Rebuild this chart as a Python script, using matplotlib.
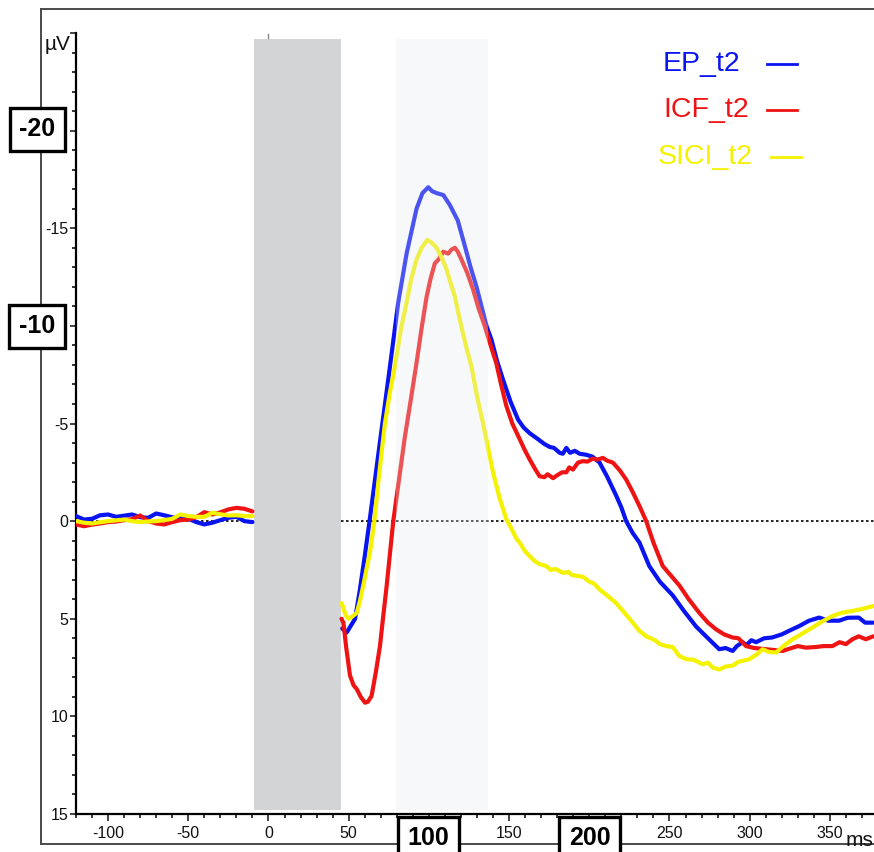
import matplotlib

matplotlib.use("Agg")
import matplotlib.pyplot as plt
from matplotlib.lines import Line2D
from matplotlib.patches import Rectangle

plt.rcParams["font.family"] = ["Liberation Sans", "DejaVu Sans"]

# ---- data (ms, µV; negative is drawn upward) ----
pre_t = [-120, -115, -110, -105, -100, -95, -90, -85, -80, -75, -70, -65, -60,
         -55, -50, -45, -40, -35, -30, -25, -20, -15, -10]
ep_pre = [-0.26, -0.08, -0.12, -0.30, -0.34, -0.22, -0.28, -0.34, -0.20, -0.17, -0.39, -0.30, -0.20,
          -0.15, -0.12, 0.05, 0.17, 0.08, -0.05, -0.17, -0.22, 0.00, 0.05]
icf_pre = [0.17, 0.26, 0.18, 0.12, 0.05, 0.02, -0.05, -0.10, -0.29, 0.00, 0.12, 0.17, 0.05,
           -0.05, -0.08, -0.20, -0.46, -0.34, -0.45, -0.60, -0.68, -0.63, -0.50]
sici_pre = [0.00, 0.08, 0.12, 0.06, 0.00, -0.04, -0.08, 0.00, 0.05, 0.02, 0.00, -0.05, -0.12,
            -0.34, -0.26, -0.22, -0.22, -0.43, -0.35, -0.29, -0.30, -0.26, -0.26]

ep_t = [46, 48.8, 51, 54, 57, 60, 63, 67, 71, 75.7, 80.9, 86.1, 92.3, 96, 99.6, 102, 104.8, 109, 113,
        118, 122.4, 126, 129.7, 135.9, 139, 142.5, 146.2, 151, 155.6, 159, 162.9, 168, 172, 175.3,
        178, 181.5, 183.5, 185.7, 188, 191, 194, 198, 202, 206.4, 211, 216.8, 220, 223, 227, 231.3,
        237.4, 244, 252, 259, 266.6, 274, 281, 285, 289.4, 292, 295.6, 298, 301, 304, 309, 314, 320,
        325, 331, 337, 343.3, 349, 355.7, 361, 368, 372, 377]
ep_v = [5.5, 5.7, 5.4, 5.0, 3.5, 1.8, 0.0, -2.5, -5.0, -7.9, -11.2, -13.7, -16.0, -16.8, -17.1, -16.9,
        -16.8, -16.7, -16.2, -15.4, -14.1, -13.0, -12.0, -10.0, -9.3, -8.2, -7.25, -6.1, -5.2, -4.8,
        -4.5, -4.2, -3.95, -3.8, -3.75, -3.5, -3.45, -3.75, -3.5, -3.6, -3.45, -3.4, -3.3, -3.0, -2.3,
        -1.3, -0.7, 0.0, 0.6, 1.1, 2.3, 3.1, 3.8, 4.6, 5.4, 6.0, 6.56, 6.5, 6.65, 6.4, 6.2, 6.35, 6.1,
        6.2, 6.0, 5.96, 5.8, 5.6, 5.37, 5.1, 4.94, 5.1, 5.1, 4.95, 4.94, 5.2, 5.2]

icf_t = [45.5, 46.7, 48.5, 50.8, 53, 55, 57.5, 60.2, 62, 64.3, 67, 69.5, 71.5, 73.7, 75.8, 77.8, 81.5,
         85, 88.5, 92.3, 95.5, 98.6, 101, 103.7, 106, 109, 112, 114, 116.2, 118, 120.3, 124, 127.6,
         131, 134.8, 138.5, 142, 145, 148.3, 152, 156.6, 160, 162.9, 166, 169, 172, 174, 177.4, 180,
         183, 185.7, 187.5, 189.8, 193, 196, 199, 202, 205, 208.5, 211, 214.7, 219, 223, 227, 231.3,
         235.5, 240, 245.8, 251, 256.2, 262, 268.6, 274, 279, 284, 289.4, 293, 297.7, 303, 310, 315,
         320.5, 326, 330, 335, 341, 346, 351.6, 356, 360, 364, 368, 372.4, 377]
icf_v = [5.0, 5.2, 6.5, 7.9, 8.4, 8.6, 9.0, 9.3, 9.25, 8.95, 7.7, 6.4, 4.9, 3.3, 1.6, 0.0, -2.2, -4.3,
         -6.1, -8.1, -9.9, -11.5, -12.4, -13.2, -13.4, -13.8, -13.7, -13.9, -14.0, -13.8, -13.4,
         -12.7, -11.85, -10.9, -10.0, -9.0, -8.1, -7.0, -5.9, -5.0, -4.2, -3.6, -3.15, -2.7, -2.3,
         -2.25, -2.4, -2.2, -2.35, -2.5, -2.5, -2.75, -2.64, -3.0, -3.07, -3.05, -3.2, -3.15, -3.24,
         -3.1, -3.0, -2.6, -2.13, -1.5, -0.77, 0.0, 1.1, 2.3, 2.8, 3.3, 4.0, 4.7, 5.2, 5.54, 5.8, 5.96,
         6.0, 6.4, 6.5, 6.56, 6.6, 6.65, 6.5, 6.4, 6.48, 6.45, 6.4, 6.4, 6.2, 6.3, 6.05, 5.9, 6.05, 5.9]

sici_t = [45.5, 46.3, 48, 49.8, 52, 55, 57, 59.1, 61, 63.3, 66, 69, 72.6, 75.5, 78.8, 82.5, 86.1, 89,
          92.3, 95.5, 99, 101, 102.5, 104.8, 108, 111, 113.5, 116.2, 118.5, 121.3, 124, 126.6, 130,
          133.8, 137, 140, 144, 148.3, 151.5, 154.6, 156.6, 160, 162.9, 166, 169, 173.2, 176, 179,
          183.6, 187, 189, 192, 196, 200, 203, 206.4, 211, 216.8, 222, 227.1, 231, 235.5, 241, 244,
          248, 252, 256, 260.4, 265, 270.7, 274, 277, 281, 285, 289.4, 293, 296, 299.7, 304, 308, 312,
          316.4, 321, 326.7, 332, 339.1, 345, 351.6, 357, 364, 370, 377]
sici_v = [4.2, 4.35, 4.8, 5.0, 4.9, 4.7, 4.1, 3.3, 2.5, 1.6, 0.0, -2.4, -5.0, -6.5, -7.9, -9.8, -11.2,
          -12.4, -13.4, -14.0, -14.4, -14.3, -14.2, -14.0, -13.5, -12.9, -12.2, -11.5, -10.6, -9.6,
          -8.7, -7.9, -6.4, -5.0, -3.7, -2.5, -1.2, -0.1, 0.4, 0.9, 1.1, 1.55, 1.8, 2.05, 2.2, 2.3,
          2.5, 2.45, 2.65, 2.6, 2.75, 2.8, 2.85, 3.1, 3.2, 3.5, 3.8, 4.2, 4.7, 5.2, 5.6, 5.9, 6.1, 6.3,
          6.4, 6.45, 6.9, 7.07, 7.1, 7.33, 7.25, 7.5, 7.6, 7.45, 7.4, 7.2, 7.15, 7.07, 6.85, 6.56, 6.7,
          6.73, 6.4, 6.05, 5.8, 5.45, 5.15, 4.86, 4.7, 4.6, 4.5, 4.35]

series_names = ["EP_t2", "ICF_t2", "SICI_t2"]
series_colors = ["#0a14f0", "#ee1414", "#f5f200"]

W, H = 874, 852


def fx(px):
    return px / W


def fy(py):
    return 1 - py / H


fig = plt.figure(figsize=(W / 100, H / 100), dpi=100)
ax = fig.add_axes([fx(76), fy(814), fx(874) - fx(76), fy(33) - fy(814)])
ax.set_xlim(-120, 377.5)
ax.set_ylim(15, -25)

# stimulus artefact window and analysis window
ax.add_patch(Rectangle((-9, -24.7), 54.5, 39.5, facecolor="#d3d4d6", edgecolor="none", zorder=1))
ax.plot([0, 0], [-24.75, -24.95], color="#888888", lw=1, zorder=1)
ax.axhline(0, color="black", lw=1.2, ls=(0, (1.5, 1.5)), zorder=0.5)

pre = [ep_pre, icf_pre, sici_pre]
post = [(ep_t, ep_v), (icf_t, icf_v), (sici_t, sici_v)]
for (t, v), p, color in zip(post, pre, series_colors):
    ax.plot(pre_t, p, color=color, lw=3, solid_capstyle="round", zorder=3)
    ax.plot(t, v, color=color, lw=3, solid_capstyle="round", zorder=3)
# translucent analysis window over the traces
ax.add_patch(Rectangle((79.5, -24.7), 57.5, 39.5, facecolor="#e6eaf0", alpha=0.3,
                       edgecolor="none", zorder=4))

for side in ("top", "right"):
    ax.spines[side].set_visible(False)
for side in ("left", "bottom"):
    ax.spines[side].set_linewidth(1.6)

yticks = [-25, -20, -15, -10, -5, 0, 5, 10, 15]
ylabels = ["", "", "-15", "", "-5", "0", "5", "10", "15"]
ax.set_yticks(yticks)
ax.set_yticklabels(ylabels)
ax.set_yticks(range(-25, 16), minor=True)
xticks = [-100, -50, 0, 50, 100, 150, 200, 250, 300, 350]
xlabels = ["-100", "-50", "0", "50", "", "150", "", "250", "300", "350"]
ax.set_xticks(xticks)
ax.set_xticklabels(xlabels)
ax.set_xticks(range(-120, 378, 10), minor=True)
ax.tick_params(axis="y", which="major", length=4.5, width=1.1, pad=1, labelsize=11.5, colors="#111111")
ax.tick_params(axis="y", which="minor", length=3, width=1.1)
ax.tick_params(axis="x", which="major", length=5, width=1.1, pad=4, labelsize=11.5, colors="#111111")
ax.tick_params(axis="x", which="minor", length=3, width=1.1)

# outer frame
frame_kw = dict(color="#4a4a4a", lw=1.4, transform=fig.transFigure)
fig.add_artist(Line2D([fx(41), fx(41)], [fy(9), fy(844)], **frame_kw))
fig.add_artist(Line2D([fx(41), 1], [fy(9), fy(9)], **frame_kw))
fig.add_artist(Line2D([fx(41), 1], [fy(844), fy(844)], **frame_kw))

# unit labels
fig.text(fx(71), fy(44), "µV", ha="right", va="center", fontsize=15, color="#111111")
fig.text(fx(873), fy(846), "ms", ha="right", va="baseline", fontsize=15, color="#111111")

# boxed highlight labels
box = dict(boxstyle="square,pad=0.38", facecolor="white", edgecolor="black", linewidth=2.4)
for label, (px, py) in [("-20", (37.5, 129.5)), ("-10", (37, 326)),
                        ("100", (428.5, 838)), ("200", (589.5, 838))]:
    fig.text(fx(px), fy(py), label, ha="center", va="center", fontsize=18,
             fontweight="bold", bbox=box, zorder=10)

# legend
legend_pos = [(663, 782, 64), (663, 782, 110), (658, 786, 157)]
for name, color, (tx, lx, ly) in zip(series_names, series_colors, legend_pos):
    fig.text(fx(tx), fy(ly), name, ha="left", va="center", fontsize=20.5, color=color)
    fig.add_artist(Line2D([fx(lx - 15), fx(lx + 15)], [fy(ly), fy(ly)], color=color, lw=2,
                          transform=fig.transFigure))

fig.savefig("out.png", dpi=100)
